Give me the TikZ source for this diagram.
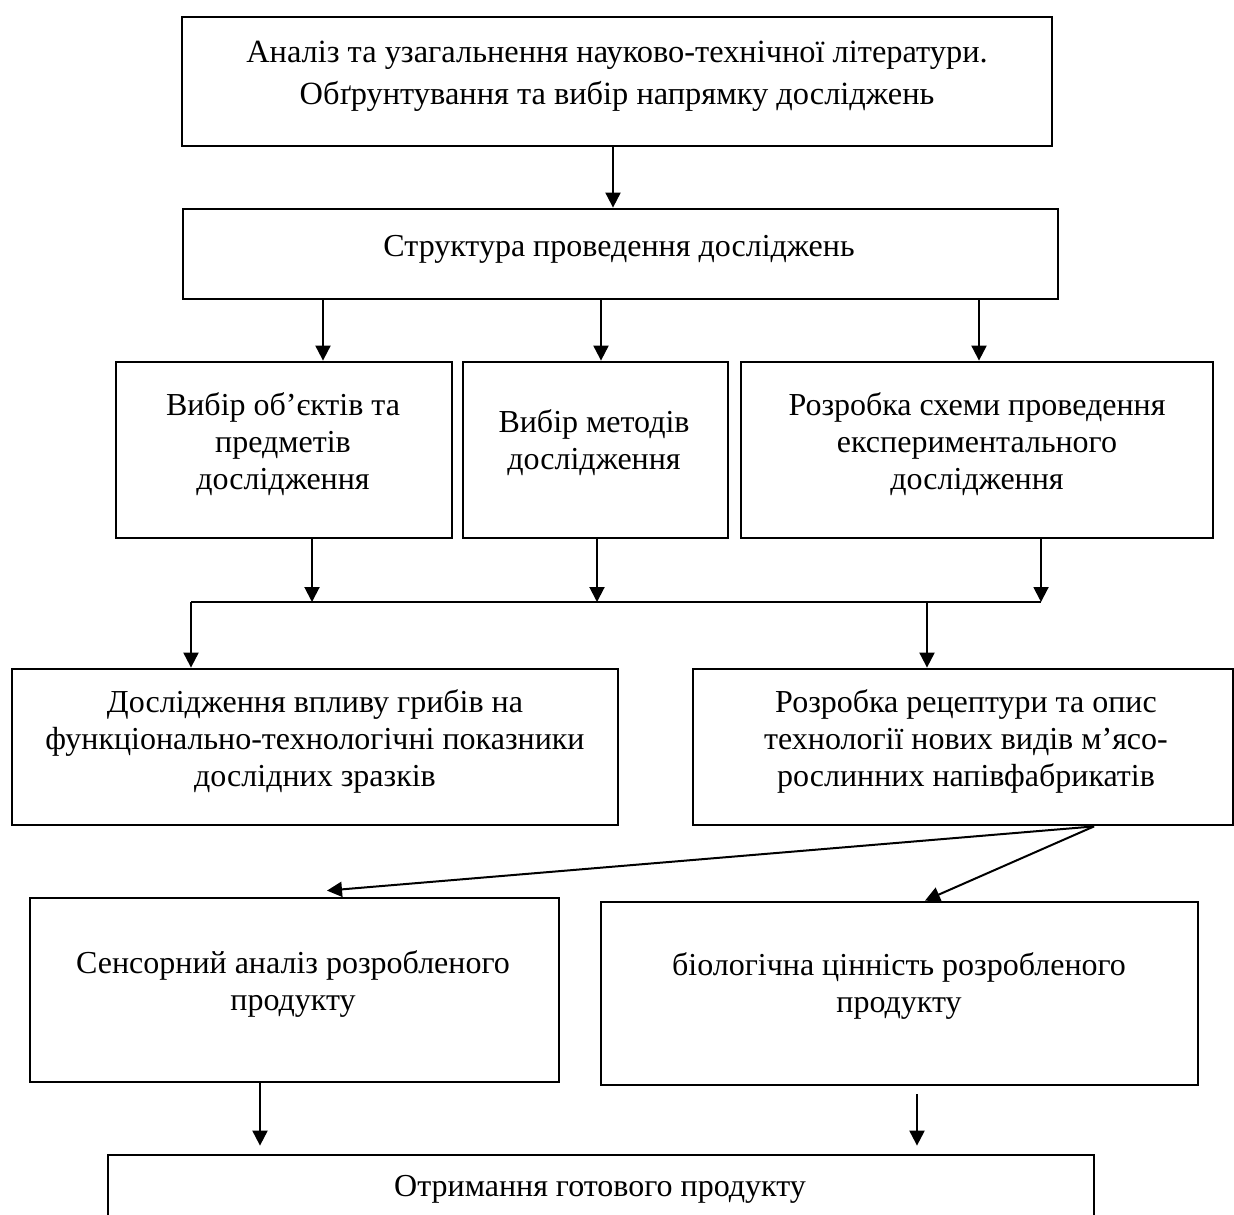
\documentclass[tikz,border=0pt]{standalone}
\usepackage{fontspec}
\setmainfont{Liberation Serif}
\usetikzlibrary{arrows.meta,fit}

\tikzset{
	stage/.style={rectangle,draw,line width=1.4pt,inner sep=0pt},
	txt/.style={align=center,inner sep=0pt,font=\fontsize{16}{18.5}\selectfont},
	flow/.style={-{Triangle[length=7.5pt,width=7.5pt]},line width=1pt}
}

\def\topstages{
	\node(Lit) [stage,fit={(182,17) (1052,146)}] {};
	\node(Str) [stage,fit={(183,209) (1058,299)}] {};
	\path (617,76) node(LitText) [txt,font=\fontsize{16.2}{21}\selectfont]
			{Аналіз та узагальнення науково-технічної літератури.\\Обґрунтування та вибір напрямку досліджень}
			(619,249) node(StrText) [txt] {Структура проведення досліджень};
}
\def\choice{
	\node(Obj) [stage,fit={(116,362) (452,538)}] {};
	\node(Meth) [stage,fit={(463,362) (728,538)}] {};
	\node(Plan) [stage,fit={(741,362) (1213,538)}] {};
	\path (283,444) node(ObjText) [txt] {Вибір об’єктів та\\предметів\\дослідження}
			(594,443) node(MethText) [txt] {Вибір методів\\дослідження}
			(977,444) node(PlanText) [txt] {Розробка схеми проведення\\експериментального\\дослідження};
}
\def\study{
	\node(Infl) [stage,fit={(12,669) (618,825)}] {};
	\node(Rec) [stage,fit={(693,669) (1233,825)}] {};
	\path (315,741) node(InflText) [txt] {Дослідження впливу грибів на\\функціонально-технологічні показники\\дослідних зразків}
			(966,741) node(RecText) [txt] {Розробка рецептури та опис\\технології нових видів м’ясо-\\рослинних напівфабрикатів};
}
\def\quality{
	\node(Sens) [stage,fit={(30,898) (559,1082)}] {};
	\node(Bio) [stage,fit={(601,902) (1198,1085)}] {};
	\node(Prod) [stage,fit={(108,1155) (1094,1240)}] {};
	\path (293,984) node(SensText) [txt] {Сенсорний аналіз розробленого\\продукту}
			(899,986) node(BioText) [txt] {біологічна цінність розробленого\\продукту}
			(600,1189) node(ProdText) [txt] {Отримання готового продукту};
}

\begin{document}
\begin{tikzpicture}[x=0.5pt,y=-0.5pt]
\useasboundingbox (0,0) rectangle (1234,1214);
\topstages
\choice
\study
\quality
\coordinate (BusL) at (191,602);
\coordinate (BusR) at (1041,602);
\draw[line width=1pt] (BusL) -- (BusR);
\draw[flow] (Lit.south -| 613,0) -- (Str.north -| 613,0);
\draw[flow] (Str.south -| 323,0) -- (Obj.north -| 323,0);
\draw[flow] (Str.south -| 601,0) -- (Meth.north -| 601,0);
\draw[flow] (Str.south -| 979,0) -- (Plan.north -| 979,0);
\draw[flow] (Obj.south -| 312,0) -- (BusL -| 312,0);
\draw[flow] (Meth.south -| 597,0) -- (BusL -| 597,0);
\draw[flow] (Plan.south -| BusR) -- (BusR);
\draw[flow] (BusL) -- (Infl.north -| BusL);
\draw[flow] (BusL -| 927,0) -- (Rec.north -| 927,0);
\draw[flow] (Rec.south -| 1094,0) -- ([yshift=3pt]Sens.north -| 327,0);
\draw[flow] (Rec.south -| 1094,0) -- (Bio.north -| 925,0);
\draw[flow,shorten >=4pt] (Sens.south -| 260,0) -- (Prod.north -| 260,0);
\draw[flow,shorten <=4pt,shorten >=4pt] (Bio.south -| 917,0) -- (Prod.north -| 917,0);
\end{tikzpicture}
\end{document}
